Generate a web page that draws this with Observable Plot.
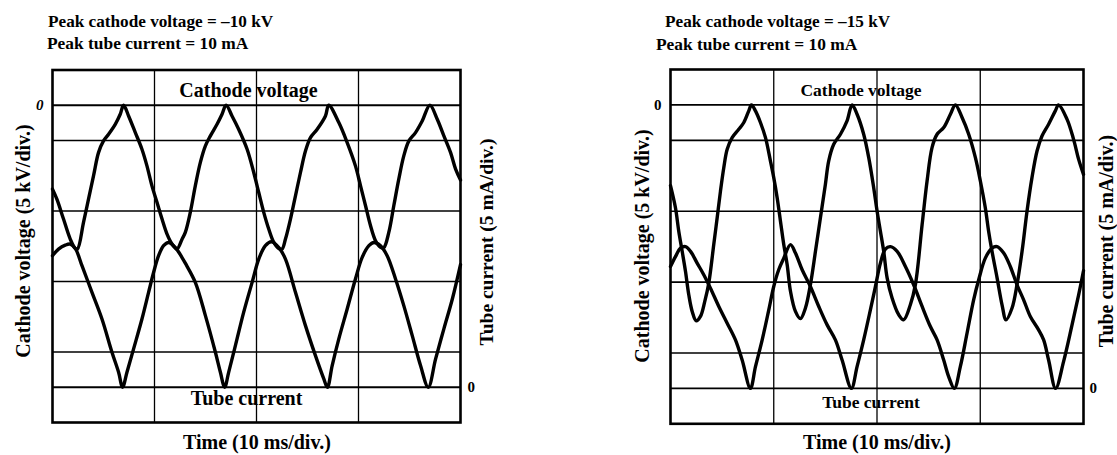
<!DOCTYPE html>
<html><head><meta charset="utf-8">
<script src="https://cdn.jsdelivr.net/npm/d3@7"></script>
<script src="https://cdn.jsdelivr.net/npm/@observablehq/plot@0.6"></script>
<style>
html,body{margin:0;padding:0;background:#fff;}
#fig{position:relative;width:1117px;height:455px;overflow:hidden;font-family:"Liberation Serif","Times New Roman",serif;font-weight:bold;color:#000;}
.t{position:absolute;white-space:nowrap;line-height:1;}
.panel{position:absolute;top:0;}
</style></head><body><div id="fig"></div>
<script>
// ---- data: [time (ms), value] ----
// Left panel: peak cathode voltage -10 kV, peak tube current 10 mA
const leftVoltage = [[0,-5.95],[0.43,-6.66],[1.08,-8.07],[1.74,-9.49],[2.23,-10.16],[2.45,-10.2],[3.04,-8.31],[3.53,-6.66],[4.02,-5.01],[4.51,-3.36],[5.0,-2.53],[5.5,-2.05],[6.15,-1.35],[6.64,-0.64],[6.97,0],[7.46,-0.76],[8.12,-1.94],[8.77,-3.12],[9.26,-4.3],[9.75,-5.72],[10.25,-6.9],[10.74,-8.07],[11.23,-9.14],[11.72,-9.84],[12.2,-10.2],[12.7,-9.5],[13.02,-9.02],[13.51,-7.6],[14.0,-5.72],[14.49,-4.07],[14.99,-2.88],[15.48,-2.17],[16.13,-1.35],[16.62,-0.64],[17.02,0],[17.6,-0.76],[18.25,-1.7],[19.08,-3.12],[19.73,-4.77],[20.22,-6.19],[20.71,-7.6],[21.2,-8.78],[21.7,-9.73],[22.19,-10.16],[22.5,-10.2],[22.84,-9.49],[23.33,-8.07],[23.82,-6.42],[24.31,-4.77],[24.8,-3.24],[25.29,-2.29],[25.95,-1.7],[26.76,-0.76],[27.08,0],[28.07,-1.23],[28.89,-2.65],[29.7,-4.3],[30.2,-5.72],[30.69,-7.13],[31.18,-8.55],[31.67,-9.61],[32.16,-10.08],[32.48,-10.1],[32.97,-9.02],[33.46,-7.13],[33.95,-5.24],[34.44,-3.59],[34.94,-2.53],[35.59,-1.94],[36.25,-1.11],[37.0,0],[37.72,-0.99],[38.37,-2.17],[39.03,-3.36],[39.52,-4.53],[40,-5.3]];
const leftCurrent = [[0,9.33],[0.59,9.8],[1.25,10.08],[1.74,10.15],[2.23,9.85],[2.89,8.62],[3.87,6.73],[4.85,4.84],[5.83,2.48],[6.48,1.06],[6.87,0],[7.3,1.06],[7.95,2.72],[8.77,4.84],[9.42,6.73],[9.91,8.14],[10.4,9.33],[10.89,10.04],[11.38,10.27],[12.04,9.91],[12.7,9.2],[13.02,8.8],[14.0,7.44],[14.99,5.08],[15.97,2.48],[16.46,1.06],[16.88,0],[17.27,1.06],[17.93,2.95],[18.74,5.31],[19.57,7.44],[20.22,9.09],[20.87,10.04],[21.46,10.32],[22.19,9.91],[22.84,9.09],[23.82,6.73],[24.8,4.37],[25.78,2.24],[26.6,0.59],[26.95,0],[27.42,1.54],[28.07,3.43],[28.89,5.55],[29.7,7.68],[30.36,9.21],[31.02,10.04],[31.51,10.27],[32.16,10.04],[32.81,9.33],[33.63,7.68],[34.44,5.79],[35.27,3.66],[36.08,1.54],[36.84,0],[37.56,2.01],[38.37,4.14],[39.2,6.26],[40,8.7]];
// Right panel: peak cathode voltage -15 kV, peak tube current 10 mA
const rightVoltage = [[0,-5.7],[0.48,-7.26],[0.8,-8.91],[1.13,-10.33],[1.45,-11.74],[1.77,-13.39],[2.1,-14.57],[2.49,-15.23],[2.9,-14.92],[3.32,-13.86],[3.71,-12.56],[4.19,-9.85],[4.52,-7.96],[4.84,-6.08],[5.16,-4.43],[5.49,-3.13],[5.97,-2.31],[6.61,-1.72],[7.1,-1.24],[7.58,-0.42],[7.84,0],[8.23,-0.42],[8.71,-1.24],[9.2,-2.31],[9.68,-3.96],[10.0,-5.13],[10.33,-6.55],[10.65,-8.2],[10.97,-9.85],[11.3,-11.27],[11.62,-13.15],[12.1,-14.57],[12.58,-15.08],[13.07,-14.33],[13.55,-12.68],[14.04,-10.33],[14.52,-7.96],[15.0,-5.61],[15.32,-3.96],[15.81,-2.78],[16.46,-2.07],[17.1,-1.13],[17.59,0],[18.07,-0.66],[18.71,-2.07],[19.2,-3.72],[19.68,-5.84],[20.01,-7.5],[20.33,-8.91],[20.65,-10.33],[20.98,-12.2],[21.46,-13.62],[22.1,-14.8],[22.58,-15.16],[23.23,-14.1],[23.72,-12.68],[24.37,-8.44],[24.85,-5.37],[25.33,-3.01],[25.82,-2.07],[26.46,-1.6],[27.11,-0.66],[27.59,0],[28.24,-0.89],[28.88,-2.07],[29.53,-3.72],[30.01,-5.37],[30.49,-7.26],[30.81,-8.91],[31.14,-10.33],[31.63,-12.2],[32.11,-14.1],[32.5,-15.16],[33.08,-14.33],[33.56,-12.68],[34.05,-10.33],[34.53,-7.5],[35.01,-5.13],[35.5,-3.25],[35.98,-2.19],[36.62,-1.36],[37.27,-0.42],[37.59,0],[38.4,-1.0],[39.04,-2.43],[39.53,-3.84],[40,-4.9]];
const rightCurrent = [[0,8.6],[0.48,9.3],[0.97,9.9],[1.45,10.0],[1.94,9.67],[2.58,8.84],[3.22,8.02],[3.87,7.07],[4.68,5.78],[5.49,4.6],[6.29,3.42],[6.94,2.0],[7.74,0],[8.23,1.53],[8.88,3.42],[9.52,5.54],[10.0,7.19],[10.48,8.37],[10.97,9.19],[11.62,10.14],[12.1,9.55],[12.75,8.37],[13.55,7.19],[14.36,5.78],[15.17,4.48],[15.97,3.42],[16.62,2.0],[17.52,0],[18.07,1.53],[18.71,3.42],[19.36,5.54],[19.85,7.19],[20.33,8.84],[20.81,9.83],[21.3,10.0],[21.95,9.67],[22.75,8.6],[23.55,7.31],[24.37,5.78],[25.17,4.36],[25.82,3.42],[26.46,2.0],[26.94,0.83],[27.49,0],[28.07,1.53],[28.72,3.89],[29.36,6.25],[29.85,7.67],[30.49,9.19],[31.14,9.9],[31.63,10.0],[32.27,9.55],[32.91,8.6],[33.56,7.31],[34.2,6.25],[34.85,5.07],[35.65,4.13],[36.14,3.42],[36.62,2.0],[37.3,0],[38.07,1.89],[38.89,4.48],[39.53,6.6],[40,8.3]];

// ---- scale settings (oscilloscope divisions) ----
const timeDivs = [10, 20, 30];          // 10 ms/div
const levelDivs = [1, 2, 3, 4];          // major divisions
const zeroLines = [0.5, 4.5];            // current zero, voltage zero (in divisions)
const kVperDiv = 5, mAperDiv = 5;
const voltageZeroDiv = 4.5, currentZeroDiv = 0.5;

// ---- texts ----
const leftTitles = ["Peak cathode voltage = \u201310 kV", "Peak tube current = 10 mA"];
const rightTitles = ["Peak cathode voltage = \u201315 kV", "Peak tube current = 10 mA"];
const voltageLabel = "Cathode voltage";
const currentLabel = "Tube current";
const yLeftTitle = "Cathode voltage (5 kV/div.)";
const yRightTitle = "Tube current (5 mA/div.)";
const xTitle = "Time (10 ms/div.)";

const fig = document.getElementById("fig");

function panel(volt, cur, o) {
  const V = volt.map(([t, v]) => ({t, v}));
  const C = cur.map(([t, c]) => ({t, c}));
  const p = Plot.plot({
    width: o.width, height: 455,
    marginLeft: o.mL, marginRight: o.mR, marginTop: o.mT, marginBottom: o.mB,
    x: {domain: [0, 40], axis: null},
    y: {domain: [0, 5], axis: null},
    style: {background: "transparent", fontFamily: "Liberation Serif, serif", fontWeight: "bold", overflow: "visible"},
    marks: [
      Plot.gridX(timeDivs, {stroke: "#000", strokeOpacity: 1, strokeWidth: 1.3}),
      Plot.gridY(levelDivs, {stroke: "#000", strokeOpacity: 1, strokeWidth: 1.6}),
      Plot.gridY(zeroLines, {stroke: "#000", strokeOpacity: 1, strokeWidth: 1.8}),
      Plot.line(V, {x: "t", y: d => voltageZeroDiv + d.v / kVperDiv, stroke: "#000", strokeWidth: 3.4, curve: "catmull-rom"}),
      Plot.line(C, {x: "t", y: d => currentZeroDiv + d.c / mAperDiv, stroke: "#000", strokeWidth: 3.4, curve: "catmull-rom"}),
      Plot.frame({stroke: "#000", strokeWidth: 2.6}),
      Plot.axisY([voltageZeroDiv], {anchor: "left", tickSize: 0, tickPadding: 9, tickFormat: () => "0", fontSize: 15, fontStyle: o.italicZero ? "italic" : "normal", label: null}),
      Plot.axisY([currentZeroDiv], {anchor: "right", tickSize: 0, tickPadding: o.rightPad, tickFormat: () => "0", fontSize: 15, label: null}),
      Plot.text([voltageLabel], {frameAnchor: "top", dy: o.vlDy, text: d => d, fontSize: o.inSize, fontWeight: "bold", dx: o.vlDx}),
      Plot.text([currentLabel], {frameAnchor: "bottom", dy: o.clDy, text: d => d, fontSize: o.inSize, fontWeight: "bold", dx: o.clDx})
    ]
  });
  p.classList.add("panel");
  p.style.left = o.left + "px";
  fig.appendChild(p);
}

panel(leftVoltage, leftCurrent, {left: 0, width: 560, mL: 52, mR: 100, mT: 69.5, mB: 33, italicZero: true, rightPad: 7,
  inSize: 20, vlDy: 13, vlDx: -8, clDy: -18, clDx: -10});
panel(rightVoltage, rightCurrent, {left: 560, width: 557, mL: 110, mR: 34, mT: 69, mB: 31.7, italicZero: false, rightPad: 6,
  inSize: 17.5, vlDy: 14, vlDx: -16, clDy: -16, clDx: -6});

function addText(txt, x, y, size, opts = {}) {
  const el = document.createElement("div");
  el.className = "t";
  el.textContent = txt;
  el.style.left = x + "px";
  el.style.top = y + "px";
  el.style.fontSize = size + "px";
  let tr = opts.start ? "translate(0,-50%)" : "translate(-50%,-50%)";
  if (opts.rotate) tr += " rotate(" + opts.rotate + "deg)";
  el.style.transform = tr;
  fig.appendChild(el);
}

addText(leftTitles[0], 48, 22, 17.2, {start: true});
addText(leftTitles[1], 47, 44, 17.4, {start: true});
addText(rightTitles[0], 665, 22, 17.2, {start: true});
addText(rightTitles[1], 656, 45, 17.4, {start: true});

addText(yLeftTitle, 23, 241, 20, {rotate: -90});
addText(yRightTitle, 487, 242, 19.5, {rotate: -90});
addText(xTitle, 257, 442, 20);

addText(yLeftTitle, 642, 246, 20, {rotate: -90});
addText(yRightTitle, 1106, 241, 20, {rotate: -90});
addText(xTitle, 877, 442, 20);
</script></body></html>
